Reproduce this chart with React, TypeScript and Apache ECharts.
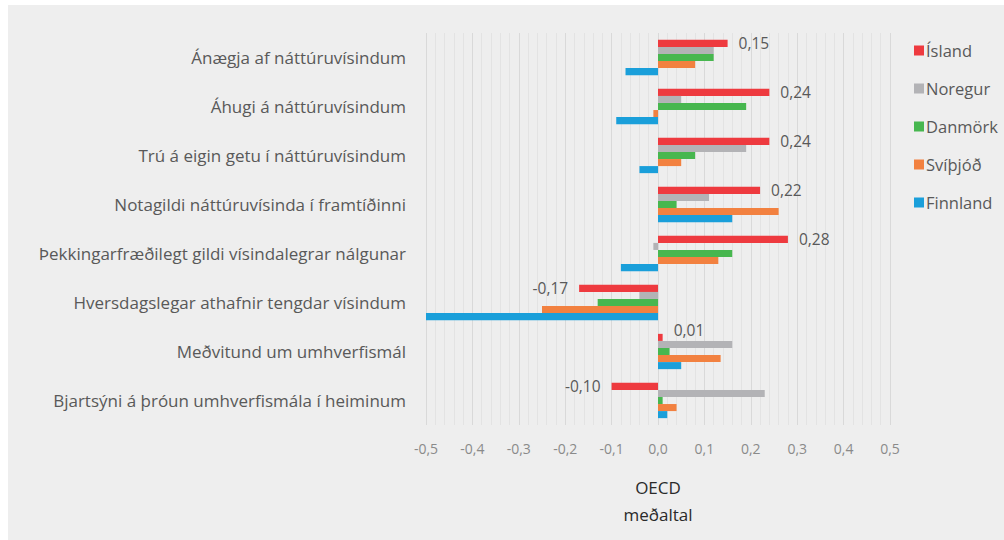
import React, { useEffect, useRef } from "react";
import * as echarts from "echarts";

const categories = [
  "Ánægja af náttúruvísindum",
  "Áhugi á náttúruvísindum",
  "Trú á eigin getu í náttúruvísindum",
  "Notagildi náttúruvísinda í framtíðinni",
  "Þekkingarfræðilegt gildi vísindalegrar nálgunar",
  "Hversdagslegar athafnir tengdar vísindum",
  "Meðvitund um umhverfismál",
  "Bjartsýni á þróun umhverfismála í heiminum",
];

const seriesNames = ["Ísland", "Noregur", "Danmörk", "Svíþjóð", "Finnland"];
const colors = ["#ee3a3f", "#b3b3b6", "#47b74f", "#f28140", "#1a9fda"];

const island = [0.15, 0.24, 0.24, 0.22, 0.28, -0.17, 0.01, -0.1];
const noregur = [0.12, 0.05, 0.19, 0.11, -0.01, -0.04, 0.16, 0.23];
const danmork = [0.12, 0.19, 0.08, 0.04, 0.16, -0.13, 0.025, 0.01];
const svithjod = [0.08, -0.01, 0.05, 0.26, 0.13, -0.25, 0.135, 0.04];
const finnland = [-0.07, -0.09, -0.04, 0.16, -0.08, -0.5, 0.05, 0.02];

const xTicks = { min: -0.5, max: 0.5, interval: 0.1 };
const axisName = "OECD\nmeðaltal";

const FONT = "'Open Sans', sans-serif";

export default function App() {
  const ref = useRef<HTMLDivElement>(null);
  useEffect(() => {
    if (!ref.current) return;
    const chart = echarts.init(ref.current, undefined, { renderer: "svg" });
    const all = [island, noregur, danmork, svithjod, finnland];
    const series = all.map((vals, i) => ({
      name: seriesNames[i],
      type: "bar",
      barGap: "0%",
      barCategoryGap: "28%",
      itemStyle: { color: colors[i] },
      data:
        i === 0
          ? vals.map((v, j) => ({
              value: v,
              label: {
                show: true,
                position: v < 0 ? "left" : "right",
                distance: 11,
                offset: j === 6 ? [0, -7] : [0, 0],
              },
            }))
          : vals,
      label:
        i === 0
          ? {
              fontFamily: FONT,
              fontSize: 15.5,
              color: "#595959",
              formatter: (p: any) => p.value.toFixed(2).replace(".", ","),
            }
          : { show: false },
    }));
    chart.setOption({
      animation: false,
      backgroundColor: "#eeeeee",
      textStyle: { fontFamily: FONT },
      grid: { left: 418, top: 28, width: 464, height: 392, containLabel: false },
      legend: {
        orient: "vertical",
        left: 901,
        top: 32,
        itemWidth: 10,
        itemHeight: 10,
        itemGap: 21,
        icon: "rect",
        textStyle: { fontFamily: FONT, fontSize: 16.5, color: "#595959", padding: [0, 0, 0, -3] },
        data: seriesNames,
      },
      xAxis: {
        type: "value",
        min: xTicks.min,
        max: xTicks.max,
        interval: xTicks.interval,
        axisLine: { show: false },
        axisTick: { show: false },
        splitLine: { show: true, lineStyle: { color: "#d9d9d9", width: 1 } },
        minorTick: { show: false, splitNumber: 5 },
        minorSplitLine: { show: true, lineStyle: { color: "#e3e3e3", width: 1 } },
        axisLabel: {
          margin: 16,
          fontSize: 14,
          color: "#8a8a8a",
          fontFamily: FONT,
          formatter: (v: number) => (Math.abs(v) < 1e-9 ? "0,0" : v.toFixed(1).replace(".", ",")),
        },
        name: axisName,
        nameLocation: "middle",
        nameGap: 49,
        nameTextStyle: { fontFamily: FONT, fontSize: 17, color: "#2a2a2a", lineHeight: 27 },
      },
      yAxis: {
        type: "category",
        data: categories,
        inverse: true,
        axisLine: { show: false, onZero: false },
        axisTick: { show: false },
        splitLine: { show: false },
        axisLabel: { margin: 20, fontSize: 17, color: "#595959", fontFamily: FONT },
      },
      series,
    });
    return () => chart.dispose();
  }, []);
  return (
    <div
      ref={ref}
      style={{ position: "fixed", left: 8, top: 5, width: 996, height: 535 }}
    />
  );
}
